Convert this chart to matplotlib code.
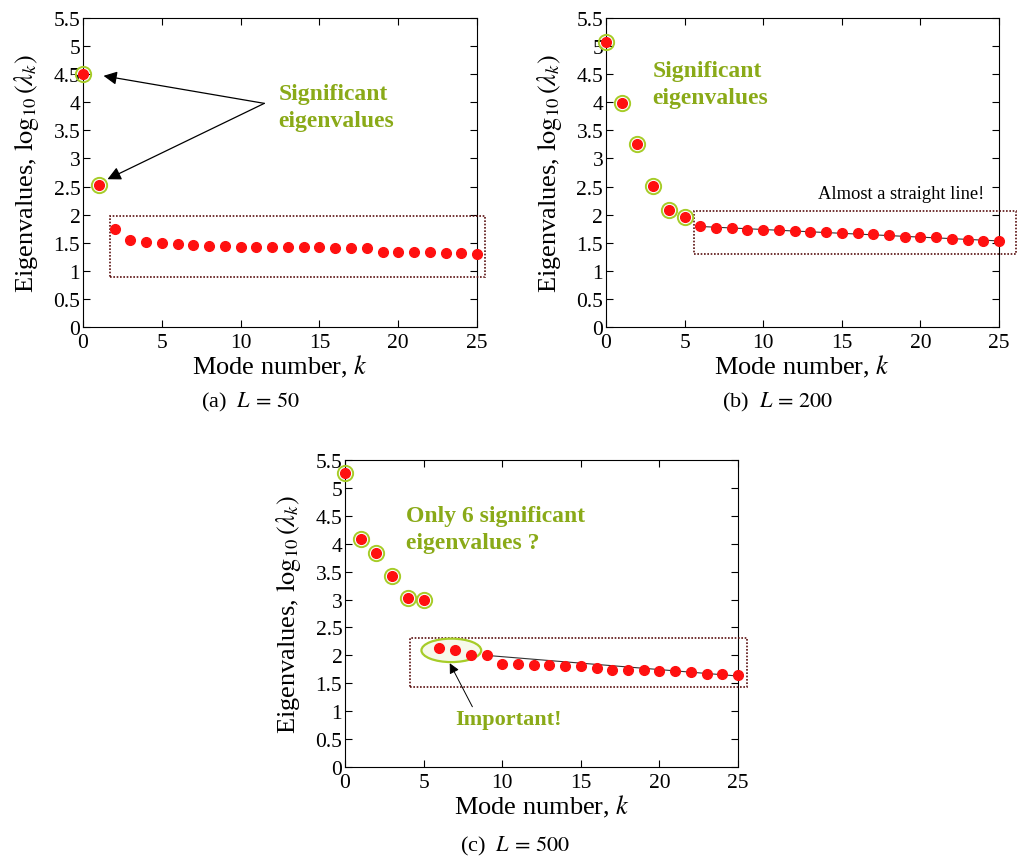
import numpy as np
import matplotlib
matplotlib.use("Agg")
import matplotlib.pyplot as plt
from matplotlib.patches import Rectangle, Ellipse

plt.rcParams['font.family'] = 'serif'
plt.rcParams['font.serif'] = ['Liberation Serif', 'DejaVu Serif']
plt.rcParams['mathtext.fontset'] = 'stix'

k = np.arange(26)

# log10 of the leading eigenvalues for each window length
logeig_L50 = [4.51, 2.53, 1.74, 1.55, 1.51, 1.49, 1.48, 1.46, 1.44, 1.44,
              1.43, 1.42, 1.42, 1.42, 1.42, 1.42, 1.40, 1.40, 1.40, 1.34,
              1.34, 1.33, 1.33, 1.31, 1.31, 1.30]
logeig_L200 = [5.07, 3.98, 3.25, 2.51, 2.09, 1.95, 1.80, 1.77, 1.77, 1.72,
               1.72, 1.72, 1.70, 1.69, 1.69, 1.68, 1.68, 1.66, 1.63, 1.61,
               1.60, 1.60, 1.56, 1.55, 1.53, 1.53]
logeig_L500 = [5.27, 4.09, 3.83, 3.43, 3.02, 3.00, 2.13, 2.10, 2.01, 2.00,
               1.84, 1.84, 1.82, 1.82, 1.81, 1.81, 1.78, 1.73, 1.73, 1.73,
               1.72, 1.72, 1.70, 1.66, 1.66, 1.65]

n_signif = {'a': 2, 'b': 6, 'c': 6}
captions = [r'(a)  $L\,=\,50$', r'(b)  $L\,=\,200$', r'(c)  $L\,=\,500$']

RED = '#ff1010'
RING = '#a6cc28'
GREEN = '#8aaa18'
BOXC = '#5a1010'

fig = plt.figure(figsize=(10.19, 8.62), dpi=100)
ax_a = fig.add_axes([0.0815, 0.6195, 0.3867, 0.3585])
ax_b = fig.add_axes([0.5947, 0.6195, 0.3857, 0.3585])
ax_c = fig.add_axes([0.3386, 0.1090, 0.3857, 0.3562])


def setup(ax, vals, nsig):
    ax.plot(k[:nsig], vals[:nsig], 'o', ms=11, mfc='none', mec=RING,
            mew=1.4, clip_on=False, zorder=4)
    ax.plot(k, vals, 'o', ms=7, color=RED, clip_on=False, zorder=5)
    ax.set_xlim(0, 25)
    ax.set_ylim(0, 5.5)
    ax.set_xticks(np.arange(0, 26, 5))
    ax.set_yticks(np.arange(0, 5.6, 0.5))
    ax.set_yticklabels(['0', '0.5', '1', '1.5', '2', '2.5', '3', '3.5',
                        '4', '4.5', '5', '5.5'])
    ax.tick_params(direction='in', top=True, right=True, length=5,
                   labelsize=15.5, pad=2)
    ax.tick_params(axis='x', pad=4)
    ax.set_xlabel(r'Mode number, $k$', fontsize=19, labelpad=1)
    ax.set_ylabel(r'Eigenvalues, $\log_{10}(\lambda_k)$', fontsize=19,
                  labelpad=9)
    for s in ax.spines.values():
        s.set_linewidth(0.8)


def dotted_box(ax, x0, y0, x1, y1):
    ax.add_patch(Rectangle((x0, y0), x1 - x0, y1 - y0, fill=False,
                           ec=BOXC, lw=1.2, ls=(0, (1, 1)), clip_on=False,
                           zorder=3))


green_kw = dict(color=GREEN, fontsize=17, fontweight='bold', linespacing=1.35,
                va='center', ha='left')

# (a) L = 50
setup(ax_a, logeig_L50, n_signif['a'])
dotted_box(ax_a, 1.7, 0.89, 25.5, 1.98)
ax_a.text(12.4, 3.92, 'Significant\neigenvalues', **green_kw)
for i in range(2):
    ax_a.annotate('', xy=(k[i] + [1.3, 0.55][i], logeig_L50[i] + [-0.04, 0.1][i]),
                  xytext=(11.5, 3.98),
                  arrowprops=dict(arrowstyle='-|>', color='black', lw=0.9,
                                  mutation_scale=20, shrinkA=0, shrinkB=0))

# (b) L = 200
setup(ax_b, logeig_L200, n_signif['b'])
tail_b = k[6:]
fit_b = np.polyfit(tail_b, logeig_L200[6:], 1)
ax_b.plot(tail_b, np.polyval(fit_b, tail_b), color='black', lw=0.8,
          zorder=4.5, alpha=0.8)
dotted_box(ax_b, 5.6, 1.30, 26.05, 2.06)
ax_b.text(2.95, 4.32, 'Significant\neigenvalues', **green_kw)
ax_b.text(18.8, 2.37, 'Almost a straight line!', fontsize=13.3,
          ha='center', va='center')

# (c) L = 500
setup(ax_c, logeig_L500, n_signif['c'])
ax_c.plot([k[9], k[25]], [logeig_L500[9], logeig_L500[25] - 0.02],
          color='black', lw=0.8, zorder=4.5, alpha=0.8)
dotted_box(ax_c, 4.13, 1.43, 25.55, 2.32)
ax_c.add_patch(Ellipse((6.76, 2.09), 3.8, 0.42, fc='#f6f9ea', ec=RING,
                       lw=1.6, zorder=3.5))
ax_c.text(3.9, 4.26, 'Only 6 significant\neigenvalues ?', **green_kw)
ax_c.text(10.4, 0.86, 'Important!', color=GREEN, fontsize=16,
          fontweight='bold', ha='center', va='center')
ax_c.annotate('', xy=(6.66, 1.86), xytext=(8.1, 1.08),
              arrowprops=dict(arrowstyle='-|>', color='black', lw=0.7,
                              mutation_scale=15, shrinkA=0, shrinkB=0))

fig.text(250 / 1019, 1 - 402 / 862, captions[0], fontsize=16, ha='center',
         va='center')
fig.text(778 / 1019, 1 - 402 / 862, captions[1], fontsize=16, ha='center',
         va='center')
fig.text(515 / 1019, 1 - 846 / 862, captions[2], fontsize=16, ha='center',
         va='center')

fig.savefig('out.png', dpi=100)
